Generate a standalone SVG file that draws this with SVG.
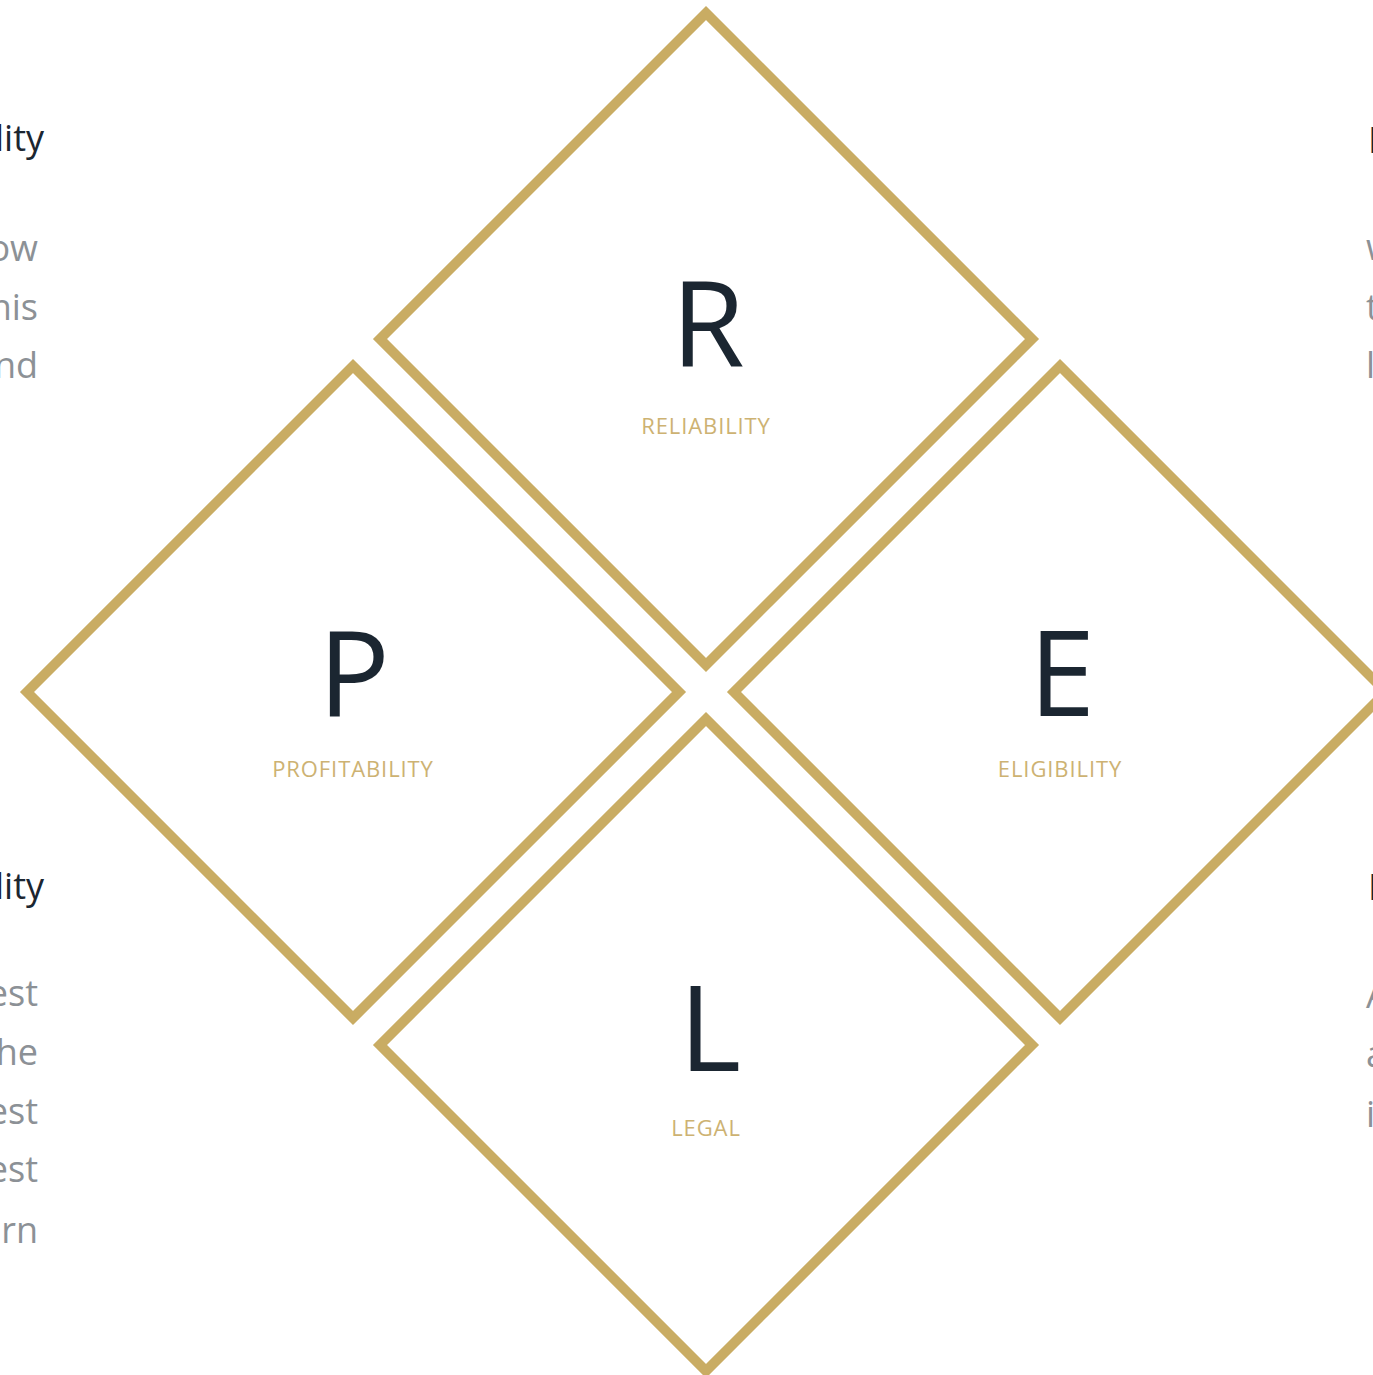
<svg xmlns="http://www.w3.org/2000/svg" width="1373" height="1375" viewBox="0 0 1373 1375">
<style>
.dia{fill:none;stroke:#C9AC63;stroke-width:10;stroke-linejoin:miter}
.big{font-family:"Open Sans","Liberation Sans",sans-serif;font-size:119px;fill:#1B2631;text-anchor:middle}
.lab{font-family:"Open Sans","Liberation Sans",sans-serif;font-size:22px;fill:#CDB272;text-anchor:middle;letter-spacing:0.9px}
.hd{font-family:"Open Sans","Liberation Sans",sans-serif;font-size:36px;fill:#1B2631}
.bd{font-family:"Open Sans","Liberation Sans",sans-serif;font-size:36px;fill:#8C9196}
</style>
<rect width="1373" height="1375" fill="#FFFFFF"/>
<g id="node-R">
<polygon class="dia" points="706,13 1032,339 706,665 380,339"/>
<text class="big" x="708" y="367">R</text>
<text class="lab" x="706" y="434">RELIABILITY</text>
</g>
<g id="node-P">
<polygon class="dia" points="353,366 679,692 353,1018 27,692"/>
<text class="big" x="354" y="716">P</text>
<text class="lab" x="353" y="777">PROFITABILITY</text>
</g>
<g id="node-E">
<polygon class="dia" points="1060,366 1386,692 1060,1018 734,692"/>
<text class="big" x="1062" y="716">E</text>
<text class="lab" x="1060" y="777">ELIGIBILITY</text>
</g>
<g id="node-L">
<polygon class="dia" points="706,719 1032,1045 706,1371 380,1045"/>
<text class="big" x="710" y="1071">L</text>
<text class="lab" x="706" y="1136">LEGAL</text>
</g>
<g id="connectors"></g>
<g id="text-top-left">
<text class="hd" x="44" y="151" text-anchor="end">lity</text>
<text class="bd" x="38" y="261" text-anchor="end">ow</text>
<text class="bd" x="38" y="320" text-anchor="end">his</text>
<text class="bd" x="38" y="378" text-anchor="end">nd</text>
</g>
<g id="text-bottom-left">
<text class="hd" x="44" y="899" text-anchor="end">lity</text>
<text class="bd" x="38" y="1006" text-anchor="end">est</text>
<text class="bd" x="38" y="1065" text-anchor="end">he</text>
<text class="bd" x="38" y="1124" text-anchor="end">est</text>
<text class="bd" x="38" y="1182" text-anchor="end">est</text>
<text class="bd" x="38" y="1243" text-anchor="end">urn</text>
</g>
<g id="text-top-right">
<text class="hd" x="1368" y="153">E</text>
<text class="bd" x="1366" y="260">w</text>
<text class="bd" x="1366" y="320">t</text>
<text class="bd" x="1366" y="378">l</text>
</g>
<g id="text-bottom-right">
<text class="hd" x="1368" y="900">L</text>
<text class="bd" x="1366" y="1008">A</text>
<text class="bd" x="1366" y="1067">a</text>
<text class="bd" x="1366" y="1127">i</text>
</g>
</svg>
